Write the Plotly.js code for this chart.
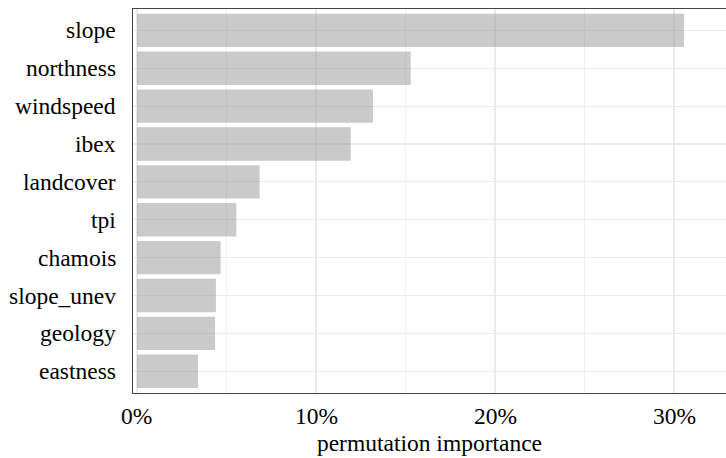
<!DOCTYPE html>
<html>
<head>
<meta charset="utf-8">
<script src="https://cdn.plot.ly/plotly-3.0.1.min.js"></script>
<style>html,body{margin:0;padding:0;background:#fff;}#chart{width:726px;height:458px;}</style>
</head>
<body>
<div id="chart"></div>
<script>
// categories listed top to bottom
const variables = ["slope", "northness", "windspeed", "ibex", "landcover", "tpi", "chamois", "slope_unev", "geology", "eastness"];
const importance = [0.3056, 0.1529, 0.1318, 0.1194, 0.0685, 0.0555, 0.0467, 0.0441, 0.0436, 0.0341];
const xTickVals = [0, 0.1, 0.2, 0.3];
const xTickText = ["0%", "10%", "20%", "30%"];

const serif = 'Liberation Serif';
const labelFont = {family: serif, size: 23.5, color: '#000000'};

const trace = {
  type: 'bar',
  orientation: 'h',
  x: importance,
  y: variables,
  width: 0.88,
  marker: {color: 'rgba(150,150,150,0.5)'}
};

// tick labels drawn as annotations anchored to the axes' own scales
const yLabels = variables.map(v => ({
  text: v, xref: 'paper', x: 0, yref: 'y', y: v,
  xanchor: 'right', yanchor: 'middle', xshift: -15, yshift: 0,
  showarrow: false, font: labelFont
}));
const xLabels = xTickVals.map((v, i) => ({
  text: xTickText[i], xref: 'x', x: v, yref: 'paper', y: 0,
  xanchor: 'center', yanchor: 'top', yshift: -8,
  showarrow: false, font: labelFont
}));

const layout = {
  width: 726,
  height: 458,
  margin: {l: 133, r: 0, t: 9, b: 65},
  font: {family: serif, size: 23.5, color: '#000000'},
  paper_bgcolor: '#ffffff',
  plot_bgcolor: '#ffffff',
  showlegend: false,
  xaxis: {
    range: [-0.00223, 0.329],
    tickvals: xTickVals,
    showticklabels: false,
    gridcolor: '#ebebeb',
    gridwidth: 1.2,
    minor: {dtick: 0.05, tick0: 0, showgrid: true, gridcolor: '#ededed', gridwidth: 0.9},
    zeroline: false,
    showline: true,
    mirror: true,
    linecolor: '#444444',
    linewidth: 1.4,
    title: {text: 'permutation importance', font: {family: serif, size: 23.5, color: '#000000'}, standoff: 41}
  },
  yaxis: {
    type: 'category',
    range: [9.573, -0.563],
    showticklabels: false,
    showgrid: true,
    gridcolor: '#ebebeb',
    gridwidth: 1.2,
    zeroline: false,
    showline: true,
    linecolor: '#444444',
    linewidth: 1.4
  },
  annotations: yLabels.concat(xLabels)
};

Plotly.newPlot('chart', [trace], layout, {staticPlot: true});
</script>
</body>
</html>
